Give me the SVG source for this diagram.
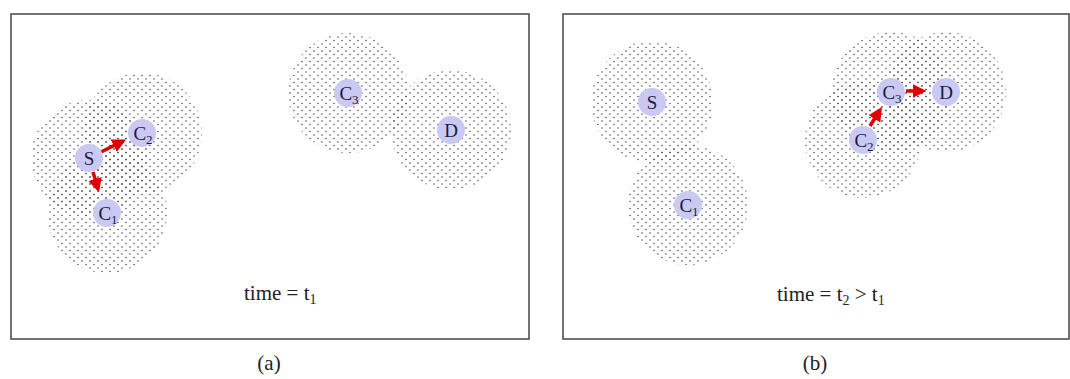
<svg xmlns="http://www.w3.org/2000/svg" width="1070" height="379" viewBox="0 0 1070 379">
<defs>
<pattern id="dots" patternUnits="userSpaceOnUse" width="8" height="7">
<circle cx="2" cy="2" r="0.8" fill="#555"/>
<circle cx="6" cy="5.5" r="0.8" fill="#555"/>
</pattern>
<marker id="ah" markerWidth="4" markerHeight="4" refX="3" refY="2" orient="auto" markerUnits="strokeWidth">
<path d="M0,0 L4,2 L0,4 Z" fill="#e00000"/>
</marker>
</defs>
<style>
.frame{fill:#fff;stroke:#444;stroke-width:1.5}
.range{fill:url(#dots);stroke:none}
.node{fill:#c9c9f3;stroke:none}
.lbl{font-family:"Liberation Serif",serif;font-size:19px;fill:#1a1a40;text-anchor:middle}
.sub{font-size:13px}
.cap{font-family:"Liberation Serif",serif;font-size:21px;fill:#222}
.edge{stroke:#e00000;stroke-width:3.5;fill:none;marker-end:url(#ah)}
</style>
<rect class="frame" x="11" y="14" width="518" height="325"/>
<rect class="frame" x="563" y="14" width="506" height="325"/>
<g id="ranges-a">
<circle class="range" cx="89" cy="158" r="58"/>
<circle class="range" cx="142" cy="133" r="60"/>
<circle class="range" cx="107" cy="213" r="60"/>
<circle class="range" cx="348" cy="93" r="60"/>
<circle class="range" cx="451" cy="130" r="60"/>
</g>
<g id="ranges-b">
<circle class="range" cx="652" cy="102" r="61"/>
<circle class="range" cx="688" cy="205" r="60"/>
<circle class="range" cx="863" cy="140" r="58"/>
<circle class="range" cx="891" cy="92" r="60"/>
<circle class="range" cx="946" cy="92" r="60"/>
</g>
<g id="connectors">
<line class="edge" x1="101" y1="152" x2="123" y2="141"/>
<line class="edge" x1="93" y1="172" x2="98" y2="189"/>
<line class="edge" x1="870" y1="126" x2="880" y2="110"/>
<line class="edge" x1="906" y1="91" x2="923" y2="91"/>
</g>
<g id="a-S"><circle class="node" cx="89" cy="158" r="14"/><text class="lbl" x="89" y="165">S</text></g>
<g id="a-C2"><circle class="node" cx="142" cy="133" r="14"/><text class="lbl" x="143" y="140">C<tspan class="sub" dy="4">2</tspan></text></g>
<g id="a-C1"><circle class="node" cx="107" cy="213" r="14"/><text class="lbl" x="108" y="220">C<tspan class="sub" dy="4">1</tspan></text></g>
<g id="a-C3"><circle class="node" cx="348" cy="93" r="14"/><text class="lbl" x="349" y="100">C<tspan class="sub" dy="4">3</tspan></text></g>
<g id="a-D"><circle class="node" cx="451" cy="130" r="14"/><text class="lbl" x="451" y="137">D</text></g>
<g id="b-S"><circle class="node" cx="652" cy="102" r="14"/><text class="lbl" x="652" y="109">S</text></g>
<g id="b-C1"><circle class="node" cx="688" cy="205" r="14"/><text class="lbl" x="689" y="212">C<tspan class="sub" dy="4">1</tspan></text></g>
<g id="b-C2"><circle class="node" cx="863" cy="140" r="14"/><text class="lbl" x="864" y="147">C<tspan class="sub" dy="4">2</tspan></text></g>
<g id="b-C3"><circle class="node" cx="891" cy="92" r="14"/><text class="lbl" x="892" y="99">C<tspan class="sub" dy="4">3</tspan></text></g>
<g id="b-D"><circle class="node" cx="946" cy="92" r="14"/><text class="lbl" x="946" y="99">D</text></g>
<g id="captions">
<text class="cap" x="244" y="300">time = t<tspan dy="4" font-size="14px">1</tspan></text>
<text class="cap" x="777" y="301">time = t<tspan dy="4" font-size="14px">2</tspan><tspan dy="-4"> &gt; t</tspan><tspan dy="4" font-size="14px">1</tspan></text>
<text class="cap" x="269" y="370" text-anchor="middle" font-size="22px">(a)</text>
<text class="cap" x="815" y="370" text-anchor="middle" font-size="22px">(b)</text>
</g>
</svg>
